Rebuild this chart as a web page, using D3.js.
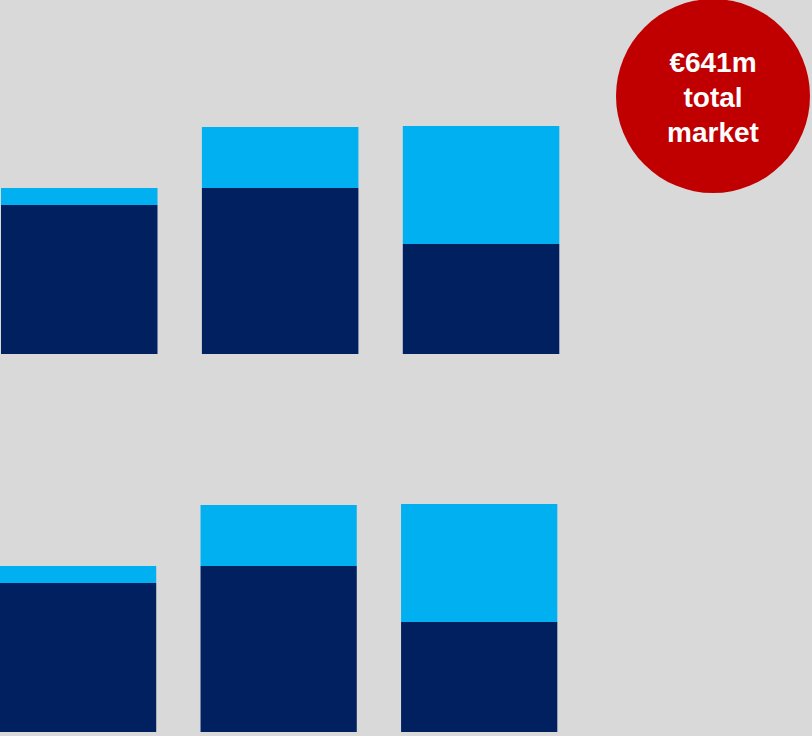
<!DOCTYPE html>
<html>
<head>
<meta charset="utf-8">
<script src="https://cdn.jsdelivr.net/npm/d3@7"></script>
<style>
  html, body { margin: 0; padding: 0; background: #d9d9d9; overflow: hidden; }
</style>
</head>
<body>
<div id="chart-area"></div>
<script>
// Datos (unidades aproximadas)
var categories = ["A", "B", "C"];
var darkValues = [149, 166, 110];
var lightValues = [17, 61, 118];
var bubbleLines = ["€641m", "total", "market"];

var width = 812, height = 736;

var svg = d3.select("#chart-area")
    .append("svg")
    .attr("width", width)
    .attr("height", height);

svg.append("rect")
    .attr("width", width)
    .attr("height", height)
    .attr("fill", "#d9d9d9");

var data = categories.map(function(c, i) {
    return { cat: c, dark: darkValues[i], light: lightValues[i] };
});

var stack = d3.stack().keys(["dark", "light"]);
var series = stack(data);
var colors = { dark: "#002060", light: "#00b0f0" };

// Dos filas con el mismo gráfico
var rows = [
    { x0: 1, x1: 559.3, base: 354 },
    { x0: 0, x1: 557.3, base: 732 }
];

rows.forEach(function(r) {
    var x = d3.scaleBand()
        .domain(categories)
        .range([r.x0, r.x1])
        .paddingInner(0.221)
        .paddingOuter(0);

    var y = d3.scaleLinear()
        .domain([0, 250])
        .range([r.base, r.base - 250]);

    var g = svg.append("g");

    g.selectAll("g.layer")
        .data(series)
        .enter().append("g")
        .attr("class", "layer")
        .attr("fill", function(d) { return colors[d.key]; })
        .selectAll("rect")
        .data(function(d) { return d; })
        .enter().append("rect")
        .attr("x", function(d) { return x(d.data.cat); })
        .attr("y", function(d) { return y(d[1]); })
        .attr("width", x.bandwidth())
        .attr("height", function(d) { return y(d[0]) - y(d[1]); });
});

// Círculo rojo con el total
var bubble = svg.append("g")
    .attr("transform", "translate(713,96)");

bubble.append("circle")
    .attr("r", 97)
    .attr("fill", "#c00000");

bubble.append("text")
    .attr("text-anchor", "middle")
    .attr("fill", "#ffffff")
    .style("font-family", "'Liberation Sans', Arial, sans-serif")
    .style("font-weight", "bold")
    .style("font-size", "28px")
    .selectAll("tspan")
    .data(bubbleLines)
    .enter().append("tspan")
    .attr("x", 0)
    .attr("y", function(d, i) { return -24 + i * 35; })
    .text(function(d) { return d; });
</script>
</body>
</html>
